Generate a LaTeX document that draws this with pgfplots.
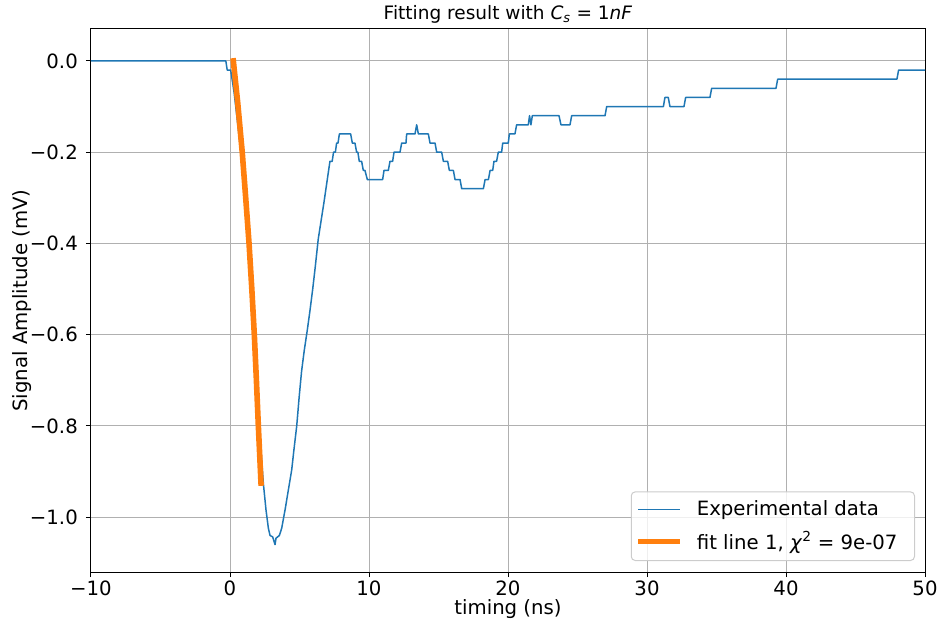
\documentclass[border=0pt]{standalone}
\usepackage{fontspec}
\setmainfont{DejaVu Sans}
\usepackage{pgfplots}
\usepackage{pgfplotstable}
\pgfplotsset{compat=1.18}

\definecolor{mplblue}{HTML}{1F77B4}
\definecolor{mplorange}{HTML}{FF7F0E}
\definecolor{gridgray}{HTML}{B0B0B0}
\definecolor{legendedge}{HTML}{CCCCCC}

% Measured pulse (digitised in 0.02 mV steps)
\pgfplotstableread{
t      v
-10    0
-0.30  0
-0.20  -0.02
0.05   -0.02
0.30   -0.07
0.90   -0.23
1.40   -0.43
1.80   -0.64
2.10   -0.80
2.40   -0.926
2.59   -0.984
2.76   -1.024
2.88   -1.04
3.07   -1.043
3.24   -1.06
3.31   -1.046
3.55   -1.04
3.72   -1.024
3.96   -0.984
4.20   -0.94
4.44   -0.896
4.60   -0.852
4.80   -0.80
4.98   -0.735
5.15   -0.680
5.34   -0.635
5.56   -0.590
5.75   -0.548
5.95   -0.500
6.12   -0.455
6.35   -0.390
6.76   -0.310
7.19   -0.22
7.35   -0.22
7.45   -0.20
7.58   -0.20
7.67   -0.18
7.77   -0.18
7.87   -0.16
8.68   -0.16
8.80   -0.18
8.99   -0.18
9.11   -0.20
9.20   -0.20
9.30   -0.22
9.47   -0.22
9.59   -0.24
9.71   -0.24
9.88   -0.26
10.98  -0.26
11.08  -0.24
11.39  -0.24
11.51  -0.22
11.70  -0.22
11.80  -0.20
12.23  -0.20
12.35  -0.18
12.66  -0.18
12.71  -0.16
13.31  -0.16
13.43  -0.14
13.55  -0.16
14.27  -0.16
14.39  -0.18
14.75  -0.18
14.87  -0.20
15.23  -0.20
15.35  -0.22
15.66  -0.22
15.78  -0.24
16.07  -0.24
16.19  -0.26
16.55  -0.26
16.67  -0.28
18.23  -0.28
18.35  -0.26
18.59  -0.26
18.71  -0.24
18.90  -0.24
18.99  -0.22
19.18  -0.22
19.30  -0.20
19.54  -0.20
19.62  -0.18
20.02  -0.18
20.10  -0.16
20.50  -0.16
20.62  -0.14
21.46  -0.14
21.55  -0.12
21.65  -0.14
21.75  -0.12
23.67  -0.12
23.81  -0.14
24.46  -0.14
24.58  -0.12
26.98  -0.12
27.10  -0.10
31.18  -0.10
31.29  -0.08
31.53  -0.08
31.65  -0.10
32.66  -0.10
32.78  -0.08
34.53  -0.08
34.65  -0.06
39.28  -0.06
39.40  -0.04
47.98  -0.04
48.10  -0.02
50.00  -0.02
}\measured

% Fitted leading edge
\pgfplotstableread{
t     v
0.24  0.0
0.55  -0.09
0.88  -0.20
1.13  -0.30
1.37  -0.40
1.57  -0.50
1.75  -0.60
1.90  -0.70
2.04  -0.80
2.23  -0.925
}\fitone

\begin{document}
\fontsize{19.7}{23.6}\selectfont
\begin{tikzpicture}[font=\fontsize{19.7}{23.6}\selectfont]
\path[use as bounding box] (-91pt,-54pt) rectangle (851pt,572pt);
\begin{axis}[
  at={(0pt,0pt)}, anchor=south west,
  scale only axis, width=834pt, height=543pt,
  xmin=-10, xmax=50, ymin=-1.12, ymax=0.07,
  xtick={-10,0,10,20,30,40,50},
  xticklabels={−10,0,10,20,30,40,50},
  ytick={-1,-0.8,-0.6,-0.4,-0.2,0},
  yticklabels={−1.0,−0.8,−0.6,−0.4,−0.2,0.0},
  tick pos=left, tick align=outside,
  major tick length=5pt,
  every tick/.style={black, line width=1pt},
  grid=major,
  major grid style={gridgray, line width=1pt},
  axis line style={black, line width=1pt},
  xticklabel style={anchor=base, yshift=-18pt, inner sep=0pt},
  yticklabel style={anchor=east, xshift=-8pt, inner sep=0pt},
  title={Fitting result with \textit{C}\textsubscript{\textit{s}} = 1\textit{nF}},
  title style={at={(0.5,1)}, anchor=base, yshift=3pt, inner sep=0pt,
    font=\fontsize{18.5}{22}\selectfont},
  xlabel={timing (ns)},
  xlabel style={at={(0.5,0)}, anchor=base, yshift=-42pt, inner sep=0pt},
  ylabel={Signal Amplitude (mV)},
  every axis y label/.style={at={(axis description cs:0,0.5)}, rotate=90, anchor=base, yshift=63pt, inner sep=0pt},
  legend style={at={(1,0)}, anchor=south east, xshift=-10pt, yshift=11pt,
    draw=legendedge, line width=1pt, rounded corners=4pt,
    fill=white, fill opacity=0.8, text opacity=1,
    inner xsep=4pt, inner ysep=6.5pt, row sep=9pt, column sep=12pt,
    font=\fontsize{19.7}{23.6}\selectfont},
  legend cell align=left,
  legend image code/.code={\draw[#1, line cap=butt] (0pt,0pt) -- (42pt,0pt);},
]
\addplot[mplblue, line width=1.5pt, line join=round] table[x=t, y=v] {\measured};
\addlegendentry{Experimental data}
\addplot[mplorange, line width=5.6pt, line cap=rect, line join=round] table[x=t, y=v] {\fitone};
\addlegendentry{fit line 1, \textit{χ}\textsuperscript{2} = 9e-07\rule{11pt}{0pt}}
\end{axis}
\end{tikzpicture}
\end{document}
